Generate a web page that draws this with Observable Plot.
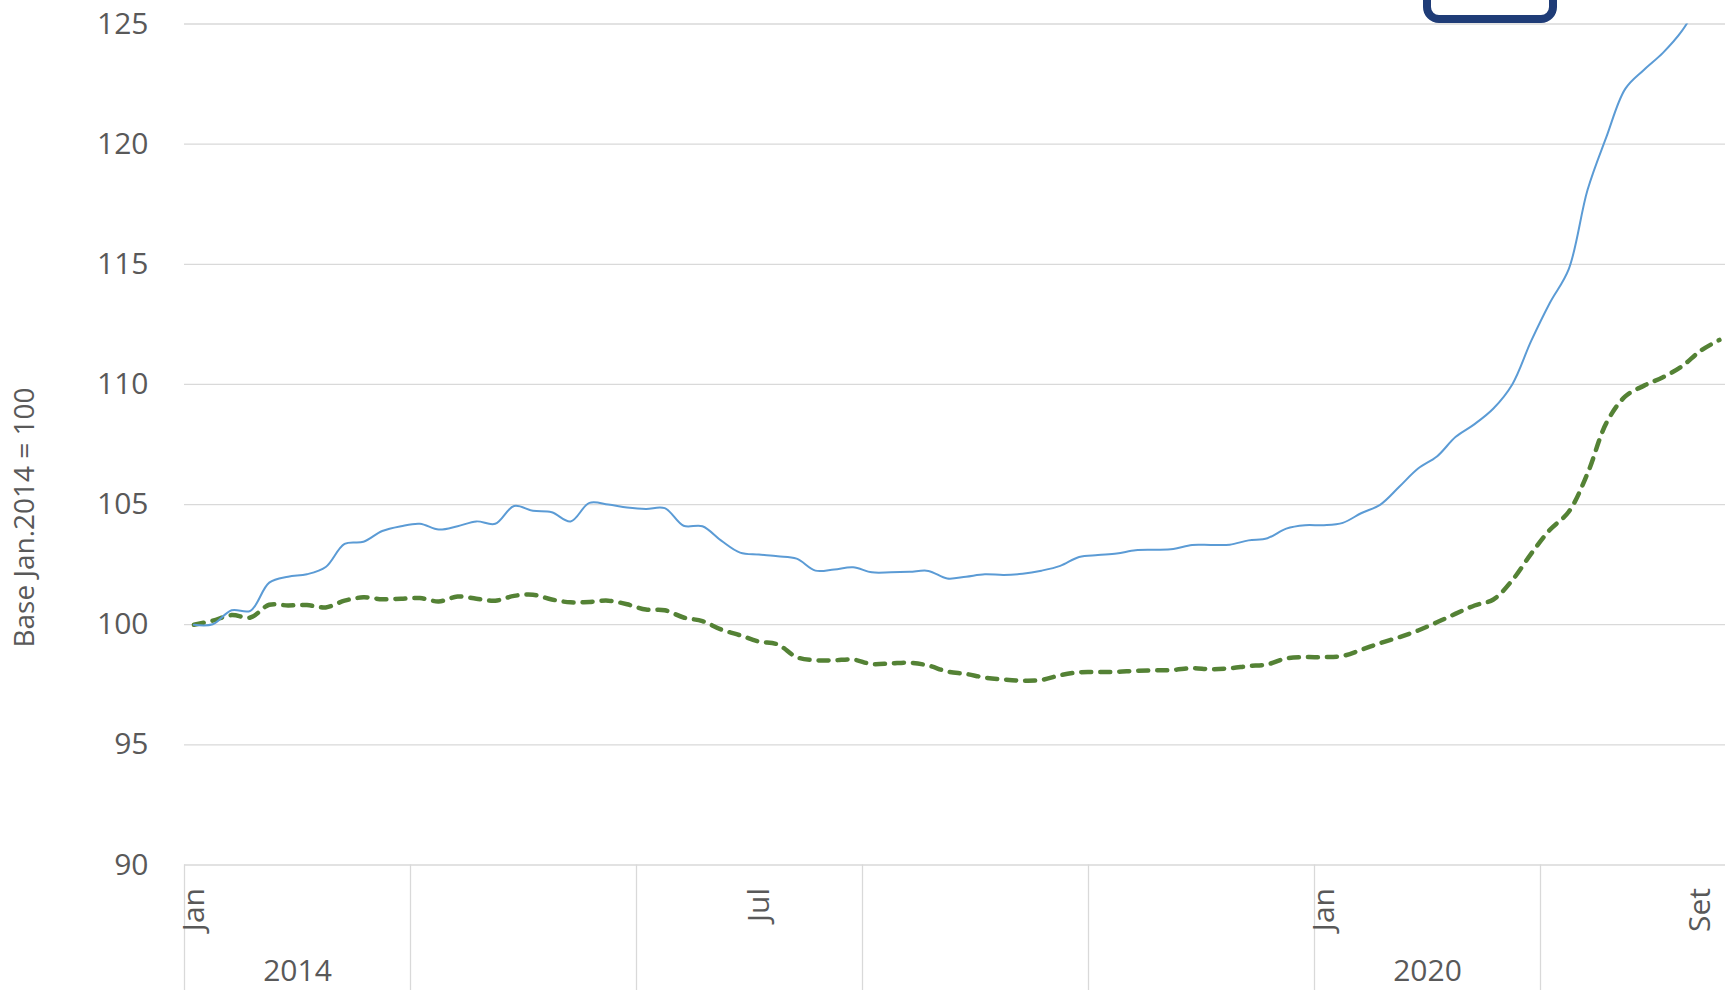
<!DOCTYPE html>
<html><head><meta charset="utf-8">
<script src="https://cdn.jsdelivr.net/npm/d3@7"></script>
<script src="https://cdn.jsdelivr.net/npm/@observablehq/plot@0.6"></script>
<style>
html,body{margin:0;padding:0;background:#fff;overflow:hidden}
#wrap{position:relative;width:1725px;height:990px;overflow:hidden;background:#fff}
#legendBox{position:absolute;left:1423px;top:-40px;width:118px;height:47px;border:8px solid #1f3c77;border-radius:16px;background:#fff}
</style></head><body>
<div id="wrap"><div id="chart"></div><div id="legendBox"></div></div>
<script>
// Month names (Portuguese) and visible axis labels
const monthNames = ["Jan","Fev","Mar","Abr","Mai","Jun","Jul","Ago","Set","Out","Nov","Dez"];
const monthTickIndex = [0, 30, 60, 80];           // categories whose month label is shown
const yearBlockLabels = ["2014", "", "", "", "", "2020", ""]; // outer-level group labels (shown ones)
const yTicks = [90, 95, 100, 105, 110, 115, 120, 125];
const yLabel = "Base Jan.2014 = 100";

// Series (monthly, base Jan.2014 = 100)
const serieAzul = [
  100.0, 100.02, 100.6, 100.58, 101.75, 102.0, 102.1, 102.4, 103.36, 103.45, 103.9, 104.1,
  104.2, 103.96, 104.1, 104.3, 104.2, 104.94, 104.74, 104.68, 104.3, 105.07, 105.0, 104.88,
  104.82, 104.85, 104.12, 104.1, 103.5, 103.0, 102.92, 102.85, 102.75, 102.25, 102.3, 102.39,
  102.18, 102.18, 102.2, 102.24, 101.92, 102.0, 102.1, 102.07, 102.12, 102.25, 102.45, 102.82,
  102.9, 102.96, 103.1, 103.12, 103.15, 103.32, 103.32, 103.33, 103.51, 103.6, 104.0, 104.14,
  104.14, 104.24, 104.65, 105.0, 105.74, 106.5, 107.0, 107.82, 108.35, 109.0, 110.0, 111.8,
  113.4, 114.8, 118.1, 120.3, 122.3, 123.1, 123.8, 124.7, 126.0, 127.5
];
const serieVerde = [
  100.0, 100.17, 100.4, 100.3, 100.83, 100.8, 100.82, 100.72, 101.0, 101.14, 101.06, 101.08,
  101.11, 100.97, 101.17, 101.08, 101.0, 101.2, 101.25, 101.05, 100.93, 100.95, 101.0, 100.85,
  100.63, 100.6, 100.3, 100.15, 99.8, 99.56, 99.3, 99.18, 98.65, 98.52, 98.52, 98.55,
  98.36, 98.39, 98.42, 98.3, 98.05, 97.95, 97.8, 97.72, 97.67, 97.7, 97.9, 98.02,
  98.03, 98.04, 98.08, 98.1, 98.12, 98.19, 98.15, 98.19, 98.28, 98.35, 98.6, 98.65,
  98.65, 98.7, 98.96, 99.24, 99.48, 99.76, 100.1, 100.46, 100.8, 101.05, 101.85, 102.95,
  103.95, 104.7, 106.3, 108.4, 109.5, 109.95, 110.3, 110.75, 111.4, 111.85
];

const blockCount = yearBlockLabels.length; // groups of 12 months
const azul = serieAzul.map((v, i) => ({i, v}));
const verde = serieVerde.map((v, i) => ({i, v}));
const blockEdges = d3.range(0, blockCount + 1).map(b => b * 12 - 0.5);
const yearLabels = yearBlockLabels.map((label, b) => ({b, label})).filter(d => d.label);

const FONT = "'Open Sans', 'Noto Sans', sans-serif";
const GREY = "#595959";

const chart = Plot.plot({
  width: 1790, height: 990,
  marginLeft: 184, marginRight: 24, marginTop: 23.5, marginBottom: 125.5,
  style: {fontFamily: FONT, background: "#fff", maxWidth: "none", color: GREY},
  x: {type: "linear", domain: [-0.5, blockCount * 12 - 0.5], axis: null},
  y: {domain: [90, 125], axis: null},
  marks: [
    Plot.ruleY(yTicks, {stroke: "#d9d9d9", strokeWidth: 1.3}),
    Plot.ruleX(blockEdges, {x: d => d, stroke: "#d9d9d9", strokeWidth: 1.3, insetTop: 841, insetBottom: -130}),
    Plot.axisY(yTicks, {tickSize: 0, tickPadding: 36, fontSize: 30, fill: GREY, label: null}),
    Plot.line(verde, {x: "i", y: "v", stroke: "#548235", strokeWidth: 4.5, strokeDasharray: "10,9", strokeLinecap: "round", curve: "catmull-rom", clip: true}),
    Plot.line(azul, {x: "i", y: "v", stroke: "#5b9bd5", strokeWidth: 2, curve: "catmull-rom", clip: true}),
    Plot.text(monthTickIndex, {x: d => d, text: d => monthNames[d % 12], frameAnchor: "bottom", rotate: -90, textAnchor: "end", lineAnchor: "middle", dy: 23, fontSize: 30, fill: GREY}),
    Plot.text(yearLabels, {x: d => d.b * 12 + 5.5, text: "label", frameAnchor: "bottom", lineAnchor: "middle", dy: 106, fontSize: 30, fill: GREY}),
    Plot.text([yLabel], {text: d => d, frameAnchor: "left", rotate: -90, textAnchor: "middle", lineAnchor: "middle", dx: -159, dy: 73, fontSize: 28, fill: GREY})
  ]
});
document.getElementById("chart").appendChild(chart);
</script>
</body></html>
